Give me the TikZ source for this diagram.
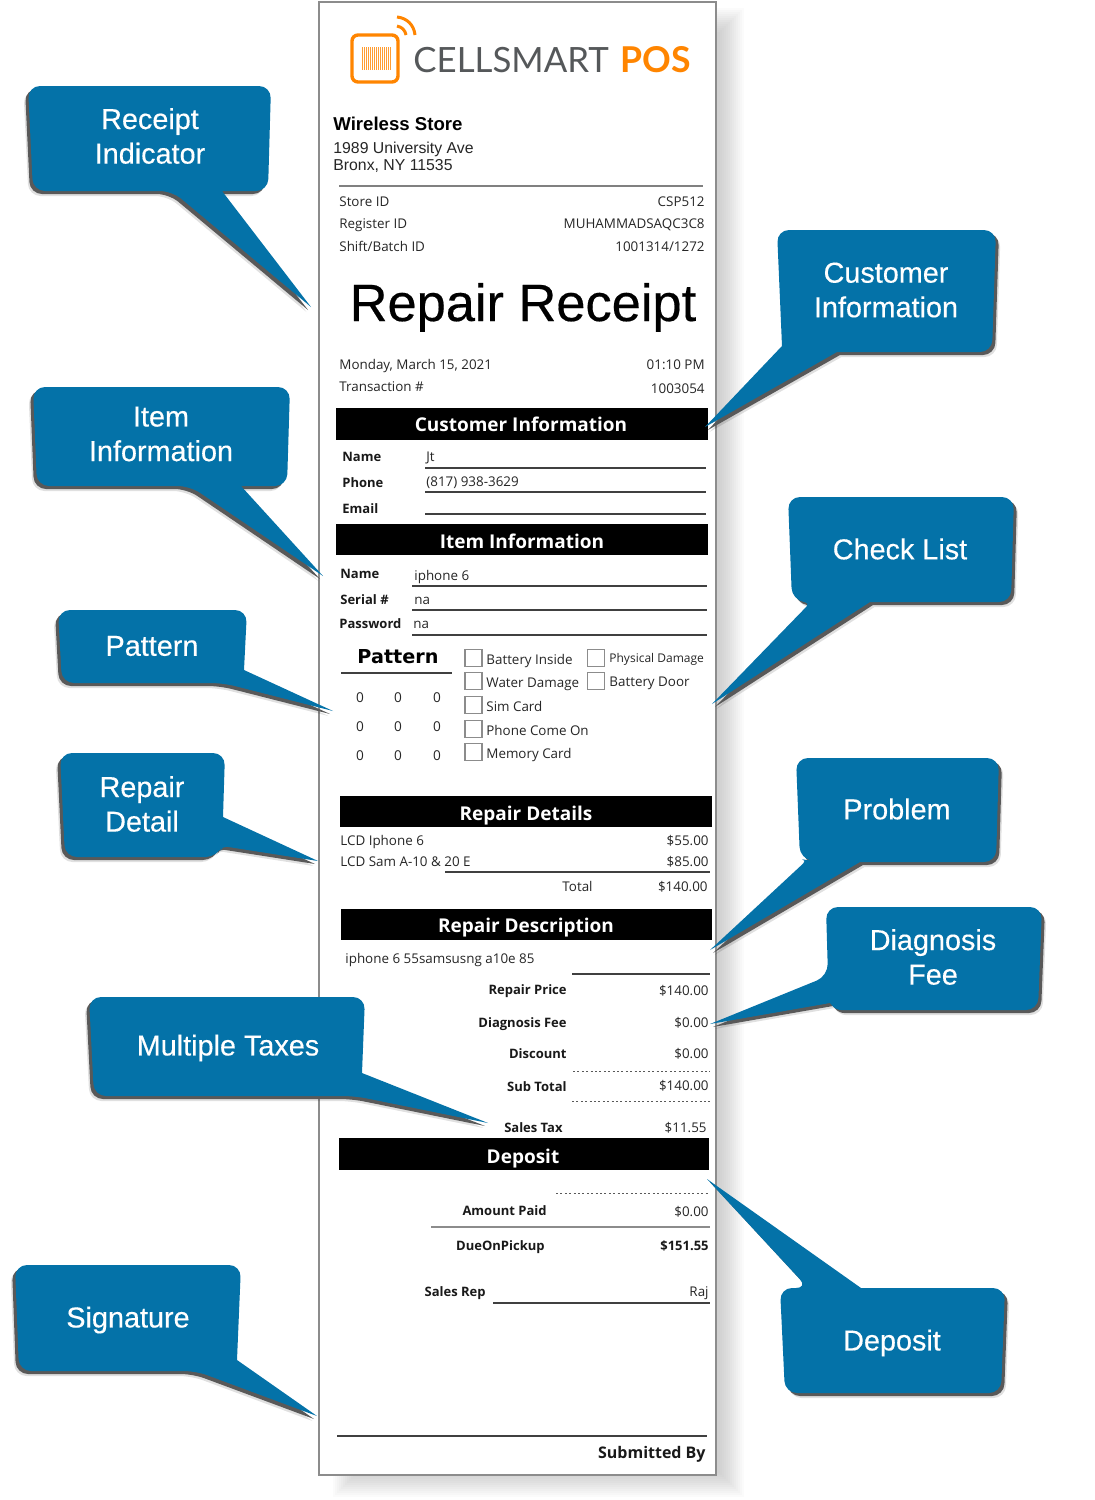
\documentclass[tikz,border=0pt]{standalone}
\usepackage{fontspec}
\setmainfont{Open Sans}
\newfontfamily\arialfont{Liberation Sans}
\newfontfamily\callfont[FakeBold=0.35]{Liberation Sans}
\newfontfamily\logofont{Lato}
\newfontfamily\widefont{DejaVu Sans}
\usetikzlibrary{positioning}
\definecolor{calloutblue}{HTML}{0472A8}
\definecolor{logoorange}{HTML}{FF8500}
\definecolor{logogray}{HTML}{55585A}
\definecolor{pageedge}{HTML}{8C8C8C}
\newcommand{\fsz}[1]{\fontsize{#1}{#1}\selectfont}
% #1 is the side the shadow falls to, -1 left or 1 right
\newcommand{\callout}[2]{
        \fill[black,opacity=.12,shift={(#1*4.5,5)}] #2;
        \fill[black!65,shift={(#1*3,3)}] #2;
        \fill[calloutblue] #2;
}
\tikzset{
        rc/.style={rounded corners=6pt},
        rcs/.style={rounded corners=2.5pt},
        calltext/.style={font=\callfont\fsz{14.4}\linespread{1.2}\selectfont,text=white,align=center,inner sep=0pt},
        lbl/.style={font=\fsz{6.7},anchor=base west,inner sep=0pt,text=black!85},
        val/.style={font=\fsz{6.7},anchor=base east,inner sep=0pt,text=black!85},
        blbl/.style={font=\bfseries\fsz{6.5},anchor=base west,inner sep=0pt,text=black!90},
        rlbl/.style={font=\bfseries\fsz{6.5},anchor=base east,inner sep=0pt,text=black!90},
        bar/.style={fill=black},
        bartext/.style={font=\bfseries\fsz{9.5},text=white,inner sep=0pt},
        rule/.style={draw=black!75,line width=.6pt},
        dotrule/.style={draw=black!65,line width=.5pt,dash pattern=on 1pt off 1.2pt},
        chkbox/.style={draw=black!45,line width=.6pt,fill=white,minimum size=8.5pt,inner sep=0pt},
        zero/.style={font=\fsz{6.8},inner sep=0pt,text=black!85},
}
\begin{document}
\begin{tikzpicture}[x=0.5pt,y=-0.5pt]
        \useasboundingbox (0,0) rectangle (1094,1500);
        % page and its soft shadow
        \foreach \i in {0,2,...,24}
                \fill[black,opacity=.016] (345+\i-12,20+\i-12) rectangle (732-\i+12,1485-\i+12);
        \fill[white,draw=pageedge,line width=.7pt] (319,2) rectangle (716,1475);
        % logo
        \draw[logoorange,line width=1.7pt,rounded corners=3pt] (352,35) rectangle (398,82);
        \foreach \x in {362,364,...,390}
                \draw[logoorange!80,line width=.3pt] (\x,47) -- (\x,70);
        \draw[logoorange,line width=1.5pt] (397,17) .. controls (407,18) and (414,25) .. (415,35);
        \draw[logoorange,line width=1.5pt] (397,26) .. controls (402,27) and (405,30) .. (406,35);
        \node[font=\logofont\fsz{17.4},text=logogray,anchor=base west,inner sep=0pt] (brand) at (413,72) {CELLSMART};
        \node[font=\logofont\bfseries\fsz{17.8},text=logoorange,anchor=base west,inner sep=0pt] (pos) at (620,72) {POS};
        % store
        \node[font=\arialfont\bfseries\fsz{9.3},anchor=base west,inner sep=0pt] (store) at (333,130) {Wireless Store};
        \node[font=\arialfont\fsz{7.9},anchor=base west,inner sep=0pt,text=black!85] (addr1) at (333,153) {1989 University Ave};
        \node[font=\arialfont\fsz{7.9},anchor=base west,inner sep=0pt,text=black!85] (addr2) at (333,170) {Bronx, NY 11535};
        \draw[draw=black!50,line width=1pt] (339,186) -- (703,186);
        \node[lbl] (storeid) at (339,206) {Store ID};
        \node[val] (storeidv) at (705,206) {CSP512};
        \node[lbl] (regid) at (339,228) {Register ID};
        \node[val] (regidv) at (705,228) {MUHAMMADSAQC3C8};
        \node[lbl] (shift) at (339,251) {Shift/Batch ID};
        \node[val] (shiftv) at (705,251) {1001314/1272};
        \node[font=\callfont\fsz{26.2},anchor=base,inner sep=0pt] (title) at (523,321) {Repair Receipt};
        \node[lbl] (date) at (339,369) {Monday, March 15, 2021};
        \node[val] (time) at (705,369) {01:10 PM};
        \node[lbl] (trans) at (339,391) {Transaction \#};
        \node[val] (transv) at (705,393) {1003054};
        % customer
        \fill[bar] (336,408) rectangle (708,440);
        \node[bartext] (custbar) at (521,424) {Customer Information};
        \node[blbl] (cname) at (342,461) {Name};
        \node[lbl] (cnamev) at (426,461) {Jt};
        \draw[rule] (425,468) -- (706,468);
        \node[blbl] (cphone) at (342,487) {Phone};
        \node[lbl] (cphonev) at (426,486) {(817) 938-3629};
        \draw[rule] (425,492) -- (706,492);
        \node[blbl] (cemail) at (342,513) {Email};
        \draw[rule] (425,514) -- (706,514);
        % item
        \fill[bar] (336,524) rectangle (708,555);
        \node[bartext] (itembar) at (522,541) {Item Information};
        \node[blbl] (iname) at (340,578) {Name};
        \node[lbl] (inamev) at (414,580) {iphone 6};
        \draw[rule] (412,586) -- (707,586);
        \node[blbl] (iserial) at (340,604) {Serial \#};
        \node[lbl] (iserialv) at (414,604) {na};
        \draw[rule] (412,610) -- (707,610);
        \node[blbl] (ipass) at (339,628) {Password};
        \node[lbl] (ipassv) at (413,628) {na};
        \draw[rule] (412,635) -- (707,635);
        % pattern
        \node[font=\widefont\bfseries\fsz{9.6},anchor=base,inner sep=0pt] (pattern) at (398,663) {Pattern};
        \draw[rule] (341,673) -- (452,673);
        \foreach \r/\y in {1/698,2/727,3/756}
                \foreach \c/\x in {1/360,2/398,3/437}
                        \node[zero] (zero\r\c) at (\x,\y) {0};
        % check list
        \foreach \n/\y/\t in {1/658/Battery Inside,2/681/Water Damage,3/705/Sim Card,4/729/Phone Come On,5/752/Memory Card}{
                \node[chkbox] (chk\n) at (473.5,\y) {};
                \node[lbl] (chktext\n) at (486,\y+6) {\t};
        }
        \node[chkbox] (chk6) at (596,658) {};
        \node[lbl,font=\fsz{6}] (chktext6) at (609,662) {Physical Damage};
        \node[chkbox] (chk7) at (596,681) {};
        \node[lbl] (chktext7) at (609,686) {Battery Door};
        % repair details
        \fill[bar] (340,796) rectangle (712,827);
        \node[bartext] (detailbar) at (526,816) {Repair Details};
        \node[lbl] (part1) at (340,845) {LCD Iphone 6};
        \node[val] (part1v) at (709,845) {\$55.00};
        \node[lbl] (part2) at (340,866) {LCD Sam A-10 \& 20 E};
        \node[val] (part2v) at (709,866) {\$85.00};
        \draw[rule] (445,872) -- (710,872);
        \node[val] (total) at (593,891) {Total};
        \node[val] (totalv) at (708,891) {\$140.00};
        % repair description
        \fill[bar] (341,909) rectangle (712,940);
        \node[bartext] (descbar) at (526,928) {Repair Description};
        \node[lbl] (desc) at (345,963) {iphone 6 55samsusng a10e 85};
        \draw[rule] (572,974) -- (710,974);
        \node[rlbl] (price) at (567,994) {Repair Price};
        \node[val] (pricev) at (709,995) {\$140.00};
        \node[rlbl] (diag) at (567,1027) {Diagnosis Fee};
        \node[val] (diagv) at (709,1027) {\$0.00};
        \node[rlbl] (disc) at (567,1058) {Discount};
        \node[val] (discv) at (709,1058) {\$0.00};
        \draw[dotrule] (573,1071) -- (710,1071);
        \node[rlbl] (sub) at (567,1091) {Sub Total};
        \node[val] (subv) at (709,1090) {\$140.00};
        \draw[dotrule] (572,1101) -- (710,1101);
        \node[rlbl] (tax) at (563,1132) {Sales Tax};
        \node[val] (taxv) at (707,1132) {\$11.55};
        % deposit
        \fill[bar] (339,1138) rectangle (709,1170);
        \node[bartext] (depbar) at (523,1159) {Deposit};
        \draw[dotrule] (556,1193) -- (710,1193);
        \node[rlbl] (paid) at (547,1215) {Amount Paid};
        \node[val] (paidv) at (709,1216) {\$0.00};
        \draw[draw=black!45,line width=.8pt] (431,1227) -- (710,1227);
        \node[rlbl] (due) at (545,1250) {DueOnPickup};
        \node[rlbl] (duev) at (709,1250) {\$151.55};
        \node[rlbl] (rep) at (486,1296) {Sales Rep};
        \node[val] (repv) at (709,1296) {Raj};
        \draw[rule] (493,1303) -- (710,1303);
        \draw[rule] (337,1436) -- (707,1436);
        \node[rlbl,font=\bfseries\fsz{8}] (submit) at (706,1458) {Submitted By};
        % callouts
        \callout{-1}{[rc] (222,191) -- (268,191) -- (271,86) -- (28,86) -- (33,191) -- (172,191) [sharp corners] -- (311,307) -- cycle}
        \node[calltext] (receipt) at (150,136) {Receipt\\Indicator};
        \callout{1}{[rc] (837,352) -- (992,352) -- (996,230) -- (777,230) [sharp corners] -- (782,346) -- (705,427) -- cycle}
        \node[calltext] (custinfo) at (886,290) {Customer\\Information};
        \callout{-1}{[rc] (241,486) -- (287,486) -- (290,387) -- (33,387) -- (37,486) -- (190,486) [sharp corners] -- (323,576) -- cycle}
        \node[calltext] (iteminfo) at (161,434) {Item\\Information};
        \callout{-1}{[rc] (244,670) -- (247,610) -- (58,610) -- (62,683) -- (223,683) [sharp corners] -- (333,711) -- cycle}
        \node[calltext] (patterncall) at (152,646) {Pattern};
        \callout{-1}{[rc] (223,817) -- (225,753) -- (60,753) -- (65,857) -- (218,857) [rcs] -- (222,846) [sharp corners] -- (318,861) -- cycle}
        \node[calltext] (detailcall) at (142,804) {Repair\\Detail};
        \callout{1}{[rc] (870,602) -- (1011,602) -- (1014,497) -- (788,497) -- (792,600) [rcs] -- (810,603) [sharp corners] -- (712,704) -- cycle}
        \node[calltext] (checkcall) at (900,549) {Check List};
        \callout{1}{[rc] (860,862) -- (996,862) -- (999,758) -- (796,758) -- (800,859) [rcs] -- (807,860) [sharp corners] -- (710,950) -- cycle}
        \node[calltext] (problemcall) at (897,809) {Problem};
        \callout{1}{(830,1003) [rcs] -- (836,1010) [rc] -- (1038,1010) -- (1042,907) -- (826,907) -- (828,976) [sharp corners] -- (710,1024) -- cycle}
        \node[calltext] (diagcall) at (933,957) {Diagnosis\\Fee};
        \callout{-1}{[rc] (362,1073) -- (365,997) -- (89,997) -- (94,1096) -- (355,1096) [sharp corners] -- (488,1123) -- cycle}
        \node[calltext] (taxcall) at (228,1048) {Multiple Taxes};
        \callout{1}{[rc] (861,1288) -- (1005,1288) -- (1001,1393) -- (785,1393) -- (780,1288) -- (808,1288) [sharp corners] -- (707,1179) -- cycle}
        \node[calltext] (depcall) at (892,1343) {Deposit};
        \callout{-1}{[rc] (237,1360) -- (241,1265) -- (15,1265) -- (19,1371) -- (196,1371) [sharp corners] -- (317,1416) -- cycle}
        \node[calltext] (signcall) at (128,1320) {Signature};
\end{tikzpicture}
\end{document}
